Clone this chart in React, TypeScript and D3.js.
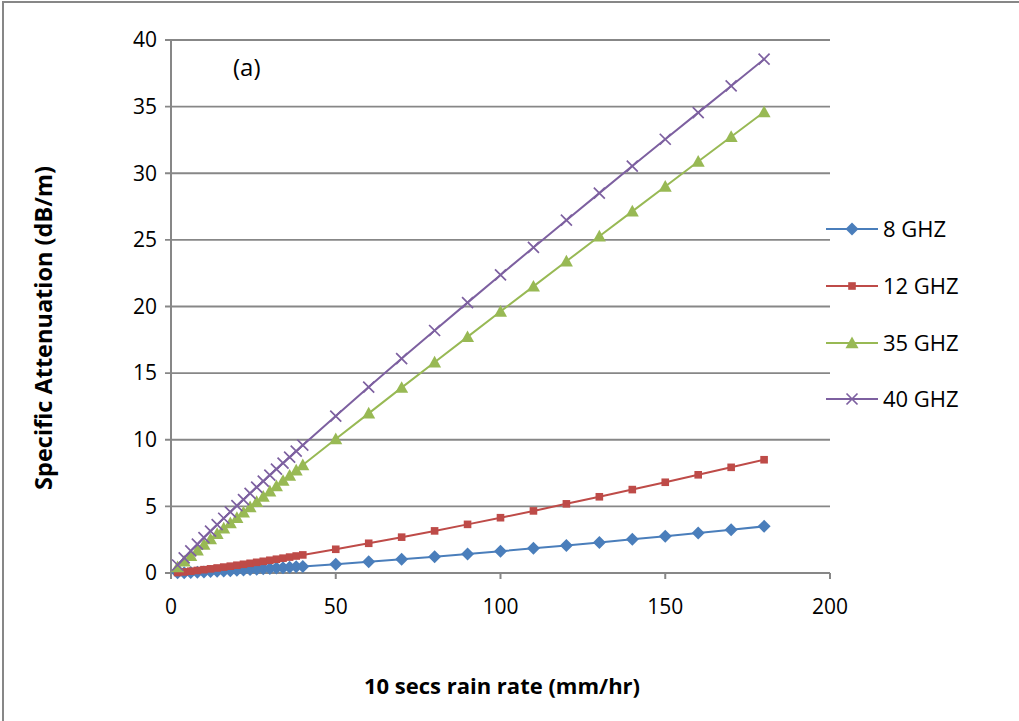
import React from "react";
import * as d3 from "d3";

const rainRate = [2, 4, 6, 8, 10, 12, 14, 16, 18, 20, 22, 24, 26, 28, 30, 32, 34, 36, 38, 40, 50, 60, 70, 80, 90, 100, 110, 120, 130, 140, 150, 160, 170, 180];

const ghz8 = [0.01, 0.025, 0.042, 0.061, 0.082, 0.104, 0.127, 0.151, 0.175, 0.201, 0.228, 0.255, 0.283, 0.312, 0.341, 0.371, 0.401, 0.432, 0.463, 0.495, 0.66, 0.84, 1.03, 1.22, 1.42, 1.63, 1.85, 2.07, 2.29, 2.53, 2.76, 3.0, 3.25, 3.5];
const ghz12 = [0.035, 0.082, 0.134, 0.19, 0.25, 0.312, 0.377, 0.444, 0.512, 0.583, 0.654, 0.728, 0.802, 0.878, 0.956, 1.034, 1.113, 1.194, 1.275, 1.357, 1.78, 2.23, 2.69, 3.16, 3.65, 4.15, 4.66, 5.19, 5.72, 6.26, 6.81, 7.37, 7.93, 8.5];
const ghz35 = [0.45, 0.88, 1.3, 1.71, 2.13, 2.54, 2.94, 3.35, 3.75, 4.15, 4.55, 4.95, 5.35, 5.74, 6.14, 6.53, 6.93, 7.32, 7.71, 8.1, 10.05, 11.98, 13.91, 15.82, 17.72, 19.62, 21.51, 23.39, 25.27, 27.14, 29.01, 30.88, 32.74, 34.6];
const ghz40 = [0.6, 1.14, 1.66, 2.16, 2.66, 3.15, 3.63, 4.11, 4.58, 5.05, 5.51, 5.98, 6.44, 6.89, 7.35, 7.8, 8.25, 8.69, 9.14, 9.59, 11.78, 13.95, 16.09, 18.2, 20.29, 22.37, 24.43, 26.48, 28.51, 30.54, 32.55, 34.55, 36.55, 38.56];

const seriesNames = ["8 GHZ", "12 GHZ", "35 GHZ", "40 GHZ"];
const seriesColors = ["#4A7EBB", "#BE4B48", "#98B954", "#7D60A0"];
const seriesMarkers = ["diamond", "square", "triangle", "cross"];
const seriesValues = [ghz8, ghz12, ghz35, ghz40];

const xTicks = [0, 50, 100, 150, 200];
const yTicks = [0, 5, 10, 15, 20, 25, 30, 35, 40];

const FONT = "'Open Sans', 'Noto Sans', sans-serif";

function Marker({ kind, x, y, color }: { kind: string; x: number; y: number; color: string }) {
  if (kind === "diamond") {
    const s = 6.5;
    return <path d={`M${x},${y - s}L${x + s},${y}L${x},${y + s}L${x - s},${y}Z`} fill={color} />;
  }
  if (kind === "square") {
    const s = 3.8;
    return <rect x={x - s} y={y - s} width={2 * s} height={2 * s} fill={color} />;
  }
  if (kind === "triangle") {
    const s = 6.5;
    return <path d={`M${x},${y - s}L${x + s},${y + s * 0.8}L${x - s},${y + s * 0.8}Z`} fill={color} />;
  }
  const s = 5.5;
  return (
    <path d={`M${x - s},${y - s}L${x + s},${y + s}M${x - s},${y + s}L${x + s},${y - s}`} stroke={color} strokeWidth={1.7} fill="none" />
  );
}

export default function App() {
  const W = 1019;
  const H = 721;
  const left = 171;
  const right = 830;
  const top = 40;
  const bottom = 573;
  const x = d3.scaleLinear().domain([0, 200]).range([left, right]);
  const y = d3.scaleLinear().domain([0, 40]).range([bottom, top]);
  const line = d3
    .line<[number, number]>()
    .x((d) => x(d[0]))
    .y((d) => y(d[1]));
  const grid = "#878787";

  const legendX = 826;
  const legendYs = [229, 286, 343, 399];

  return (
    <svg width={W} height={H} style={{ position: "absolute", left: 0, top: 0 }} fontFamily={FONT}>
      <rect x={0} y={0} width={W} height={H} fill="#fff" />
      <path d={`M3,${H}V2H${W}`} fill="none" stroke={grid} strokeWidth={2} />
      {yTicks.map((t) => (
        <g key={"y" + t}>
          <line x1={left - 6} x2={right} y1={y(t)} y2={y(t)} stroke={grid} strokeWidth={t === 0 ? 2 : 1.8} />
          <text x={157} y={y(t)} dy="0.35em" textAnchor="end" fontSize={21} fill="#000">
            {t}
          </text>
        </g>
      ))}
      <line x1={left} x2={left} y1={top} y2={bottom + 6} stroke={grid} strokeWidth={2} />
      {xTicks.map((t) => (
        <g key={"x" + t}>
          <line x1={x(t)} x2={x(t)} y1={bottom} y2={bottom + 6} stroke={grid} strokeWidth={2} />
          <text x={x(t)} y={607} dy="0.35em" textAnchor="middle" fontSize={21} fill="#000">
            {t}
          </text>
        </g>
      ))}
      {seriesValues.map((vals, i) => {
        const pts: [number, number][] = rainRate.map((r, j) => [r, vals[j]]);
        return (
          <g key={"s" + i}>
            <path d={line(pts) || ""} fill="none" stroke={seriesColors[i]} strokeWidth={2} />
            {pts.map((p, j) => (
              <Marker key={j} kind={seriesMarkers[i]} x={x(p[0])} y={y(p[1])} color={seriesColors[i]} />
            ))}
          </g>
        );
      })}
      <text x={233} y={68} dy="0.35em" fontSize={24} fill="#000">
        (a)
      </text>
      {seriesNames.map((n, i) => (
        <g key={"l" + i}>
          <line x1={legendX} x2={legendX + 52} y1={legendYs[i]} y2={legendYs[i]} stroke={seriesColors[i]} strokeWidth={2} />
          <Marker kind={seriesMarkers[i]} x={legendX + 26} y={legendYs[i]} color={seriesColors[i]} />
          <text x={legendX + 57} y={legendYs[i]} dy="0.35em" fontSize={22} fill="#000">
            {n}
          </text>
        </g>
      ))}
      <text x={502} y={686} dy="0.35em" textAnchor="middle" fontSize={22} fontWeight="bold" fill="#000">
        10 secs rain rate (mm/hr)
      </text>
      <text transform={`translate(44,328) rotate(-90)`} dy="0.35em" textAnchor="middle" fontSize={23.5} fontWeight="bold" fill="#000">
        Specific Attenuation (dB/m)
      </text>
    </svg>
  );
}
